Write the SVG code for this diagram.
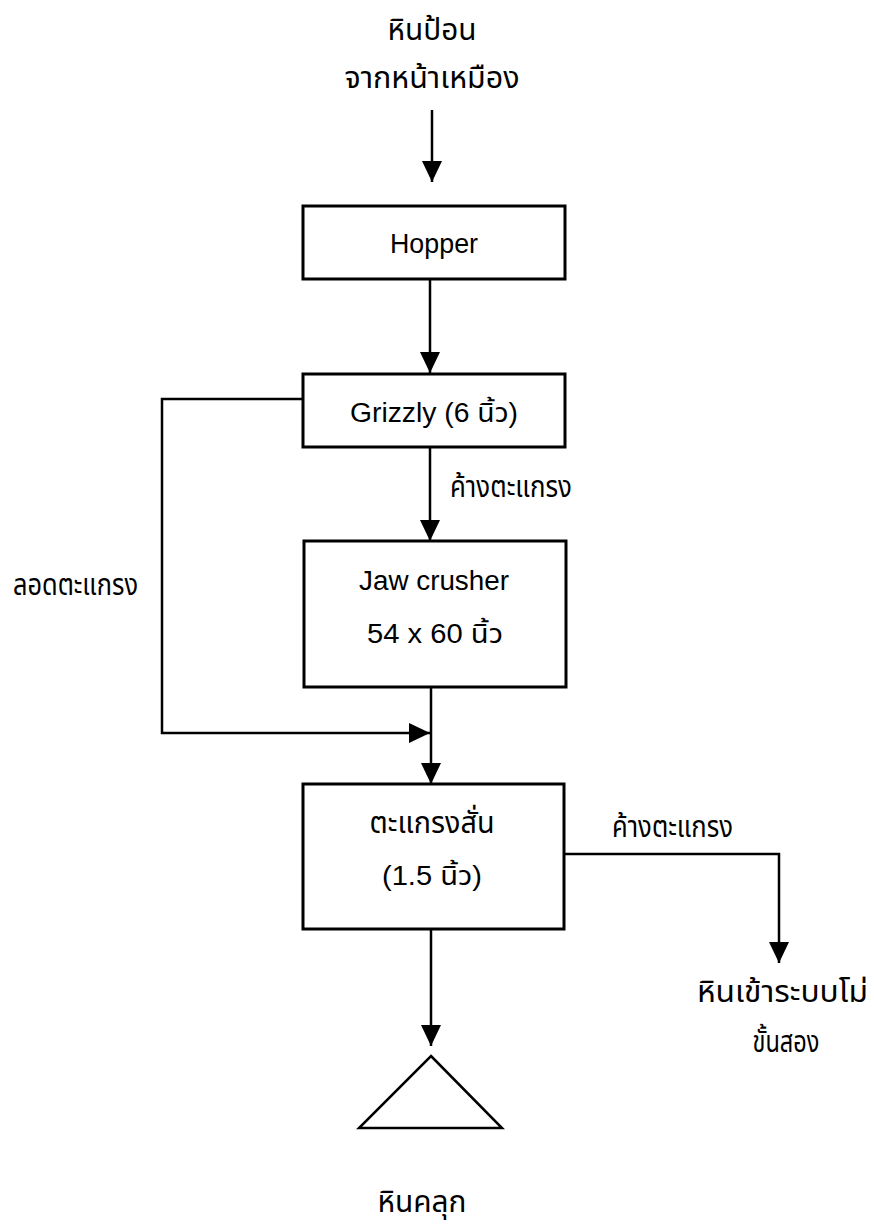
<svg xmlns="http://www.w3.org/2000/svg" width="874" height="1224" viewBox="0 0 874 1224">
<defs>
<marker id="arr" markerUnits="userSpaceOnUse" markerWidth="22" markerHeight="22" refX="21" refY="10" orient="auto" viewBox="0 0 22 20">
<path d="M0,0 L21,10 L0,20 Z" fill="#000"/>
</marker>
<style>
.box{fill:#fff;stroke:#000;stroke-width:3}
.ln{fill:none;stroke:#000;stroke-width:2.5}
.t{font-family:"Liberation Sans","Noto Sans Thai","Noto Sans",sans-serif;font-size:27px;fill:#000}
.th{font-size:30px}
.c{text-anchor:middle}
</style>
</defs>
<rect width="874" height="1224" fill="#fff"/>
<g id="connectors">
<path class="ln" d="M432,110 V182" marker-end="url(#arr)"/>
<path class="ln" d="M430,279 V373" marker-end="url(#arr)"/>
<path class="ln" d="M303,399 H162 V733 H430" marker-end="url(#arr)"/>
<path class="ln" d="M430,447 V541" marker-end="url(#arr)"/>
<path class="ln" d="M431,687 V784" marker-end="url(#arr)"/>
<path class="ln" d="M564,854 H779 V963" marker-end="url(#arr)"/>
<path class="ln" d="M431,929 V1046" marker-end="url(#arr)"/>
<text class="t th" x="450" y="497" textLength="122" lengthAdjust="spacingAndGlyphs">ค้างตะแกรง</text>
<text class="t th" x="13" y="595" textLength="125" lengthAdjust="spacingAndGlyphs">ลอดตะแกรง</text>
<text class="t th" x="612" y="837" textLength="121" lengthAdjust="spacingAndGlyphs">ค้างตะแกรง</text>
</g>
<g id="source">
<text class="t th c" x="432" y="40" textLength="89" lengthAdjust="spacingAndGlyphs">หินป้อน</text>
<text class="t th c" x="432" y="88" textLength="175" lengthAdjust="spacingAndGlyphs">จากหน้าเหมือง</text>
</g>
<g id="hopper">
<rect class="box" x="303" y="206" width="262" height="73"/>
<text class="t c" x="434" y="253" textLength="88" lengthAdjust="spacingAndGlyphs">Hopper</text>
</g>
<g id="grizzly">
<rect class="box" x="303" y="374" width="262" height="73"/>
<text class="t c" x="434" y="422" textLength="168" lengthAdjust="spacingAndGlyphs">Grizzly (6 นิ้ว)</text>
</g>
<g id="jaw">
<rect class="box" x="304" y="541" width="262" height="146"/>
<text class="t c" x="434" y="590" textLength="150" lengthAdjust="spacingAndGlyphs">Jaw crusher</text>
<text class="t c" x="435" y="643" textLength="136" lengthAdjust="spacingAndGlyphs">54 x 60 นิ้ว</text>
</g>
<g id="screen">
<rect class="box" x="303" y="784" width="261" height="145"/>
<text class="t th c" x="432" y="833" textLength="125" lengthAdjust="spacingAndGlyphs">ตะแกรงสั่น</text>
<text class="t c" x="432" y="885" textLength="100" lengthAdjust="spacingAndGlyphs">(1.5 นิ้ว)</text>
</g>
<g id="secondary">
<text class="t th" x="697" y="1002" textLength="171" lengthAdjust="spacingAndGlyphs">หินเข้าระบบโม่</text>
<text class="t th c" x="786" y="1052" textLength="67" lengthAdjust="spacingAndGlyphs">ขั้นสอง</text>
</g>
<g id="stockpile">
<path d="M431,1056 L502,1128 L359,1128 Z" fill="#fff" stroke="#000" stroke-width="2.5" stroke-linejoin="miter"/>
<text class="t th c" x="422" y="1212" textLength="89" lengthAdjust="spacingAndGlyphs">หินคลุก</text>
</g>
</svg>
